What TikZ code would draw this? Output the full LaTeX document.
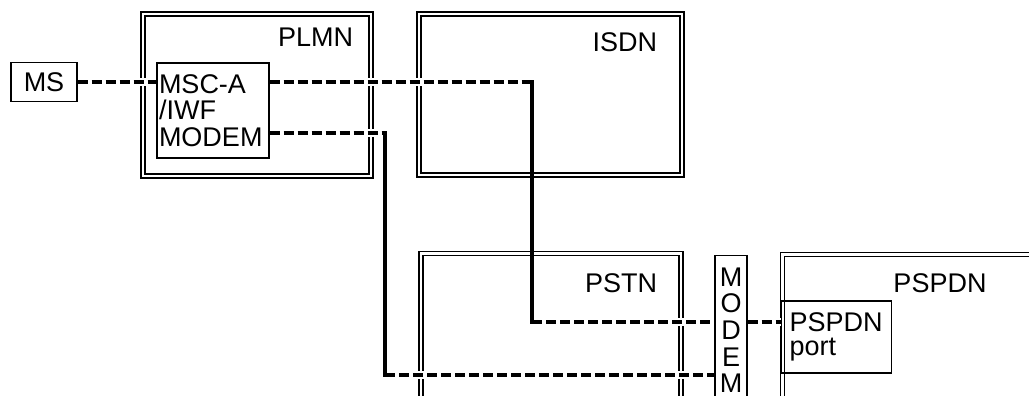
\documentclass[tikz,border=0pt]{standalone}
\usepackage{fontspec}
\setmainfont{Liberation Sans}
\usetikzlibrary{positioning,calc}
\pgfdeclarelayer{nets}
\pgfdeclarelayer{links}
\pgfsetlayers{nets,links,main}

\tikzset{
  net/.style={draw, double, double distance=1.4pt, line width=0.6pt, inner sep=0pt},
  netlabel/.style={inner sep=0pt},
  unit/.style={draw, line width=0.7pt, inner sep=0pt},
  dashlink/.style={line width=1.7pt, dash pattern=on 5pt off 2pt,
    preaction={draw=white, line width=4pt, solid}},
  solidlink/.style={line width=1.7pt, line cap=rect},
}

\begin{document}
\begin{tikzpicture}[x=0.5pt, y=-0.5pt, font=\fontsize{13.5pt}{13.3pt}\selectfont]
  \useasboundingbox (0,0) rectangle (1029,396);

  % networks
  \begin{pgfonlayer}{nets}
    \node[net, minimum width=114pt, minimum height=81pt] (plmn) at (257,95) {};
    \node[net, minimum width=131.5pt, minimum height=80.5pt] (isdn) at (550.5,94.5) {};
    \node[net, minimum width=130pt, minimum height=90pt, anchor=north] (pstn) at (551,253) {};
    \node[net, minimum width=160pt, minimum height=90pt, anchor=north west] (pspdn) at (782,254) {};
  \end{pgfonlayer}
  \node[netlabel, below left=7pt and 9pt of plmn.north east] (plmntxt) {PLMN};
  \node[netlabel, below left=9.5pt and 12.5pt of isdn.north east] (isdntxt) {ISDN};
  \node[netlabel, below left=10pt and 12pt of pstn.north east] (pstntxt) {PSTN};
  \node[netlabel, anchor=north] (pspdntxt) at ($(pspdn.north west)+(158,19)$) {PSPDN};

  % units
  \node[unit, minimum width=33pt, minimum height=19.5pt] (ms) at (44,82) {MS};
  \node[unit, text width=54pt, align=left, inner xsep=1pt, minimum height=47.5pt] (msc) at (213,110.5) {MSC-A\\/IWF\\MODEM};
  \node[unit, align=center, minimum width=16pt, inner ysep=6pt, anchor=north] (modem) at (731,255) {M\\O\\D\\E\\M};
  \node[unit, text width=47pt, align=left, inner xsep=4pt, minimum height=36pt,
    font=\fontsize{13.5pt}{12pt}\selectfont] (port) at (836.5,337) {PSPDN\\port};

  % links
  \coordinate (bendA) at (532,82);
  \coordinate (bendB) at (532,322);
  \coordinate (bendC) at (385,133);
  \coordinate (bendD) at (385,375);
  \begin{pgfonlayer}{links}
    \draw[dashlink] (ms.east) -- (msc.west |- ms.east);
    \draw[dashlink] (msc.east |- bendA) -- (bendA);
    \draw[dashlink] (bendB) -- (modem.west |- bendB);
    \draw[dashlink] (modem.east |- bendB) -- (port.west |- bendB);
    \draw[dashlink] (msc.east |- bendC) -- (bendC);
    \draw[dashlink] (bendD) -- (modem.west |- bendD);
    \draw[solidlink] (bendA) -- (bendB);
    \draw[solidlink] (bendC) -- (bendD);
  \end{pgfonlayer}
\end{tikzpicture}
\end{document}
